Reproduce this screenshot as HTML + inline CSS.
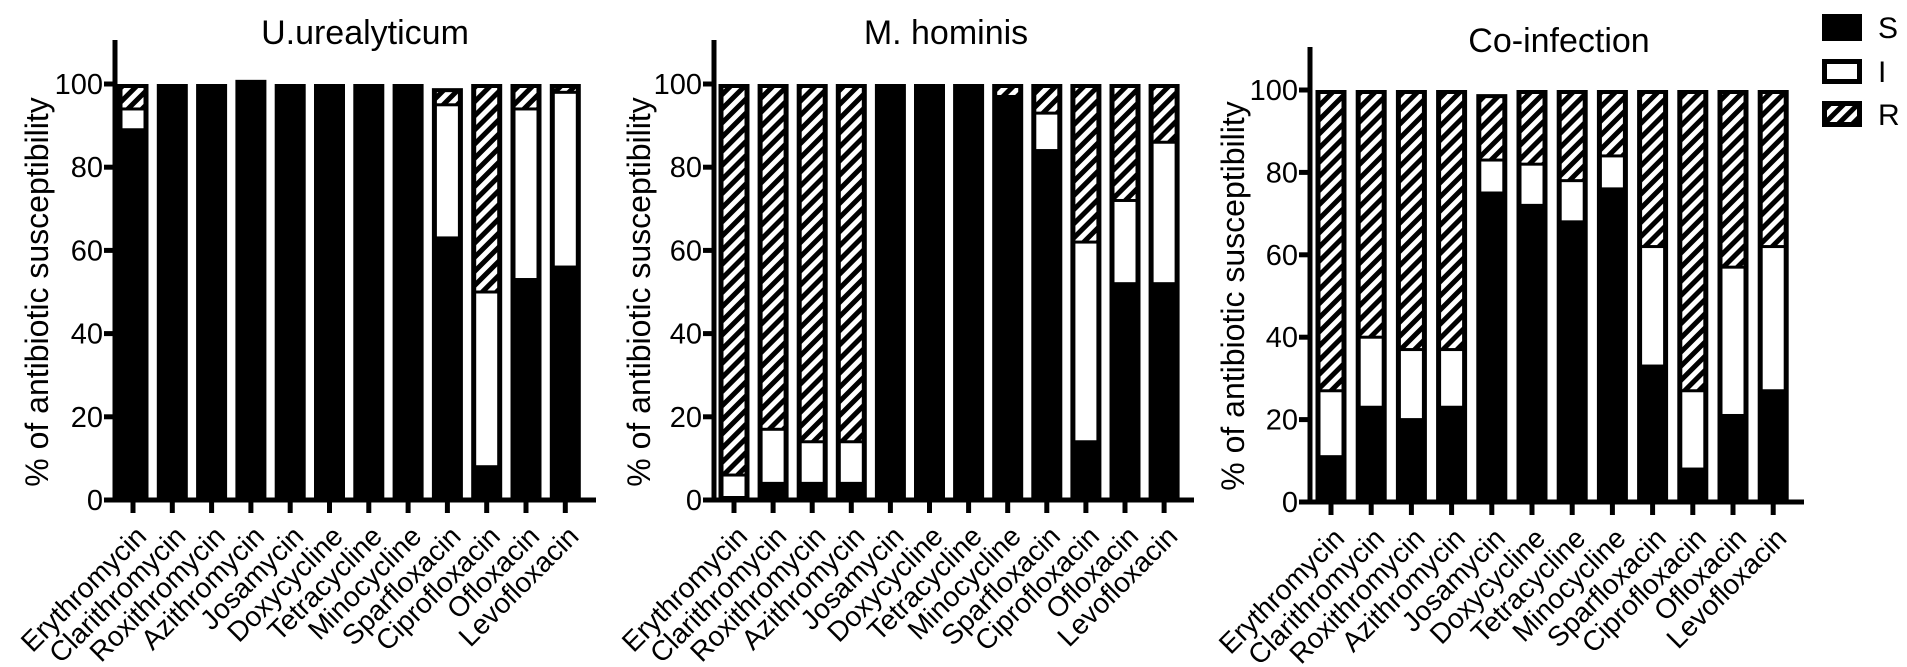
<!DOCTYPE html>
<html><head><meta charset="utf-8"><style>
html,body{margin:0;padding:0;background:#fff;}
svg{display:block;font-family:"Liberation Sans",Arial,sans-serif;}
</style></head><body>
<svg id="c" width="1907" height="667" viewBox="0 0 1907 667">
<defs>
<pattern id="hatch" width="10" height="10" patternUnits="userSpaceOnUse" patternTransform="rotate(45)">
<rect width="10" height="10" fill="#000"/><rect x="0" y="0" width="5" height="10" fill="#fff"/>
</pattern>
</defs>
<g>
<rect x="1822" y="14" width="40" height="27" fill="#000"/>
<text x="1878" y="38" font-size="30">S</text>
<rect x="1824.5" y="61.5" width="35" height="20" fill="#fff" stroke="#000" stroke-width="5"/>
<text x="1878" y="82" font-size="30">I</text>
<rect x="1824.5" y="103.5" width="35" height="21" fill="url(#hatch)" stroke="#000" stroke-width="5"/>
<text x="1878" y="125" font-size="30">R</text>
</g>
</svg>
<script>
const categories=["Erythromycin","Clarithromycin","Roxithromycin","Azithromycin","Josamycin","Doxycycline","Tetracycline","Minocycline","Sparfloxacin","Ciprofloxacin","Ofloxacin","Levofloxacin"];
const yTicks=[0,20,40,60,80,100];
const titles=["U.urealyticum","M. hominis","Co-infection"];
const uuS=[89,100,100,101,100,100,99,100,63,8,53,56];
const uuI=[5,0,0,0,0,0,0,0,32,42,41,42];
const uuR=[6,0,0,0,0,0,1,0,4,50,6,2];
const mhS=[0,4,4,4,100,100,100,97,84,14,52,52];
const mhI=[6,13,10,10,0,0,0,0,9,48,20,34];
const mhR=[94,83,86,86,0,0,0,3,7,38,28,14];
const coS=[11,23,20,23,75,72,68,76,33,8,21,27];
const coI=[16,17,17,14,8,10,10,8,29,19,36,35];
const coR=[73,60,63,63,16,18,22,16,38,73,43,38];

const NS="http://www.w3.org/2000/svg";
const svg=document.getElementById('c');
function mk(tag,attrs,parent){const e=document.createElementNS(NS,tag);for(const k in attrs)e.setAttribute(k,attrs[k]);(parent||svg).appendChild(e);return e;}

const panels=[
 {axisX:115,y0:500,y100:84,firstX:133,pitch:39.3,xEnd:596,top:40,ylabX:37,titleX:365,titleY:44,S:uuS,I:uuI,R:uuR},
 {axisX:714,y0:500,y100:84,firstX:734,pitch:39.1,xEnd:1194,top:40,ylabX:639,titleX:946,titleY:44,S:mhS,I:mhI,R:mhR},
 {axisX:1310,y0:502,y100:90,firstX:1331,pitch:40.2,xEnd:1804,top:47,ylabX:1233,titleX:1559,titleY:52,S:coS,I:coI,R:coR}
];
const names=['uu','mh','co'];
panels.forEach((p,pi)=>{
  const g=mk('g',{});
  
  
  const yS=v=>p.y0-(p.y0-p.y100)*v/100;
  const xS=i=>p.firstX+p.pitch*i;
  const bw=31;
  const t=mk('text',{x:p.titleX,y:p.titleY,'font-size':34,'text-anchor':'middle'},g);
  t.textContent=titles[pi];
  
  
  const yl=mk('text',{x:0,y:0,'font-size':32,'text-anchor':'middle',transform:`translate(${p.ylabX+11},${(p.y0+p.y100)/2}) rotate(-90)`},g);
  yl.textContent="% of antibiotic susceptibility";
  
  
  categories.forEach((c,i)=>{
    const s=p.S[i],iv=p.I[i],r=p.R[i],tot=s+iv+r;
    const x=xS(i)-bw/2;
    const b=mk('g',{},g);
    
    
    mk('rect',{x:x,y:yS(tot),width:bw,height:yS(0)-yS(tot),fill:'#000'},b);
    const segs=[];
    if(iv>0)segs.push({lo:s,hi:s+iv,fill:'#fff',n:'i'});
    if(r>0)segs.push({lo:s+iv,hi:tot,fill:'url(#hatch)',n:'r'});
    segs.forEach(sg=>{
      const top=yS(sg.hi)+(sg.hi>=tot?4:1.5);
      const bot=yS(sg.lo)-(sg.lo<=0?4:1.5);
      if(bot-top>0.5){
        const rr=mk('rect',{x:x+5,y:top,width:bw-10,height:bot-top,fill:sg.fill},b);
        
        
      }
    });
    mk('line',{x1:xS(i),x2:xS(i),y1:p.y0,y2:p.y0+13,stroke:'#000','stroke-width':5},g);
    const lx=xS(i)+15,ly=p.y0+38;
    const tl=mk('text',{x:0,y:0,'font-size':28,'text-anchor':'end',transform:`translate(${lx},${ly}) rotate(-45)`},g);
    tl.textContent=c;
    
    
  });
  mk('line',{x1:p.axisX,x2:p.axisX,y1:p.top,y2:p.y0+2,stroke:'#000','stroke-width':5},g);
  mk('line',{x1:p.axisX-2,x2:p.xEnd,y1:p.y0,y2:p.y0,stroke:'#000','stroke-width':5},g);
  yTicks.forEach(v=>{
    mk('line',{x1:p.axisX-11,x2:p.axisX,y1:yS(v),y2:yS(v),stroke:'#000','stroke-width':5},g);
    const tt=mk('text',{x:p.axisX-12,y:yS(v)+10,'font-size':29,'text-anchor':'end'},g);
    tt.textContent=v;
    
    
  });
});
</script>
</body></html>
